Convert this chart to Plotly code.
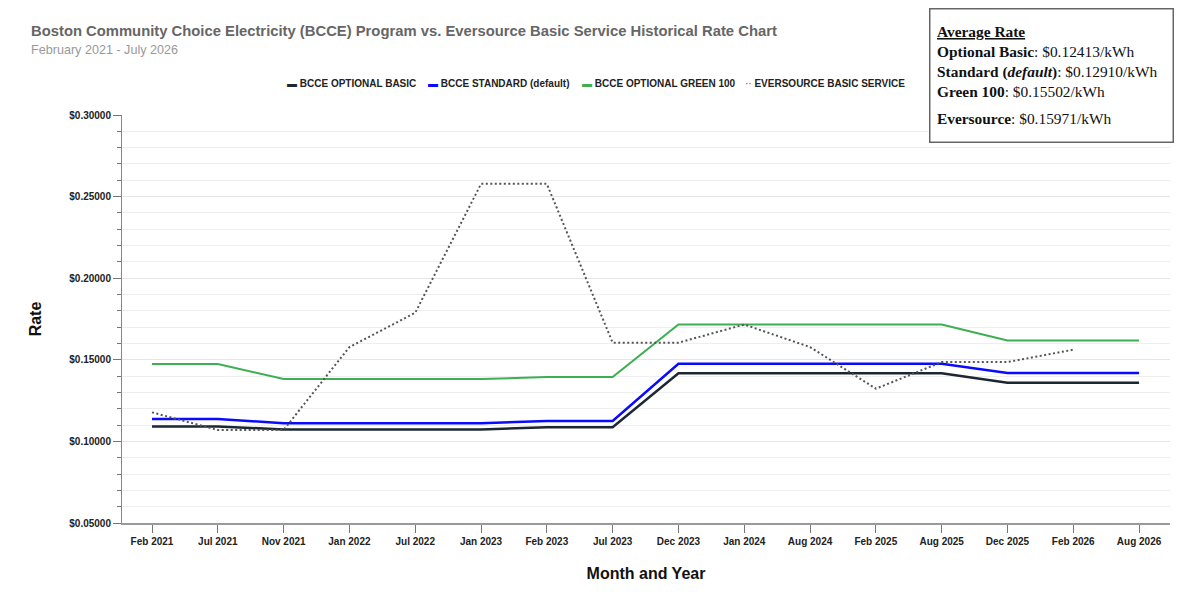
import plotly.graph_objects as go

months = ["Feb 2021", "Jul 2021", "Nov 2021", "Jan 2022", "Jul 2022", "Jan 2023",
          "Feb 2023", "Jul 2023", "Dec 2023", "Jan 2024", "Aug 2024", "Feb 2025",
          "Aug 2025", "Dec 2025", "Feb 2026", "Aug 2026"]

optional_basic = [0.1092, 0.1092, 0.1073, 0.1073, 0.1073, 0.1073, 0.1087, 0.1087,
                  0.1417, 0.1417, 0.1417, 0.1417, 0.1417, 0.1360, 0.1360, 0.1360]
standard = [0.1138, 0.1138, 0.1111, 0.1111, 0.1111, 0.1111, 0.1125, 0.1125,
            0.1476, 0.1476, 0.1476, 0.1476, 0.1476, 0.1419, 0.1419, 0.1419]
green_100 = [0.1474, 0.1474, 0.1382, 0.1382, 0.1382, 0.1382, 0.1394, 0.1394,
             0.1716, 0.1716, 0.1716, 0.1716, 0.1716, 0.1619, 0.1619, 0.1619]
eversource = [0.1178, 0.1070, 0.1070, 0.1578, 0.1788, 0.2578, 0.2578, 0.1605,
              0.1605, 0.1716, 0.1578, 0.1323, 0.1486, 0.1486, 0.1562, None]

series_names = ["BCCE OPTIONAL BASIC", "BCCE STANDARD (default)",
                "BCCE OPTIONAL GREEN 100", "EVERSOURCE BASIC SERVICE"]
series_colors = ["#1c2733", "#0a0aff", "#3daf52", "#555555"]

avg_labels = ["Optional Basic", "Standard (<i>default</i>)", "Green 100", "Eversource"]
avg_values = [0.12413, 0.12910, 0.15502, 0.15971]

# layout geometry (pixels)
W, H = 1200, 596
ML, MR, MT, MB = 122, 30, 115, 73
PW, PH = W - ML - MR, H - MT - MB


def px_x(p):
    return (p - ML) / PW


def px_y(p):
    return (H - MB - p) / PH


fig = go.Figure()
styles = [
    dict(color=series_colors[0], width=2.5, dash="solid"),
    dict(color=series_colors[1], width=2.5, dash="solid"),
    dict(color=series_colors[2], width=2, dash="solid"),
    dict(color=series_colors[3], width=2, dash="2px,2.5px"),
]
for name, vals, st in zip(series_names, [optional_basic, standard, green_100, eversource], styles):
    fig.add_trace(go.Scatter(x=months, y=vals, mode="lines", name=name, line=st,
                             connectgaps=False, showlegend=False))

ARIAL = "Arial, Liberation Sans, sans-serif"
SERIF = "Liberation Serif, serif"
axis_font = dict(family=ARIAL, size=10, color="#222222", weight="bold")

fig.update_layout(
    width=W, height=H,
    margin=dict(l=ML, r=MR, t=MT, b=MB),
    paper_bgcolor="white", plot_bgcolor="white",
    font=dict(family=ARIAL),
    showlegend=False,
    xaxis=dict(type="category", range=[-0.456, 15.47], showgrid=False,
               showline=True, linecolor="#999999", linewidth=2,
               ticks="outside", ticklen=8, tickcolor="#777777",
               tickfont=axis_font,
               title=dict(text="Month and Year",
                          font=dict(family=ARIAL, size=16, color="#111111", weight="bold"),
                          standoff=22)),
    yaxis=dict(range=[0.05, 0.30], dtick=0.05, tick0=0.05, tickprefix="$", tickformat=".5f",
               showgrid=True, gridcolor="#e6e6e6", gridwidth=1,
               showline=True, linecolor="#888888", linewidth=1,
               ticks="outside", ticklen=8, tickcolor="#777777",
               tickfont=axis_font,
               zeroline=False,
               minor=dict(dtick=0.01, tick0=0.05, showgrid=True, gridcolor="#eeeeee",
                          ticks="outside", ticklen=4, tickcolor="#777777"),
               title=dict(text="Rate",
                          font=dict(family=ARIAL, size=16, color="#111111", weight="bold"),
                          standoff=23)),
)

# Title and subtitle
fig.add_annotation(xref="paper", yref="paper", x=px_x(29), y=px_y(31), xanchor="left", yanchor="middle",
                   text="<b>Boston Community Choice Electricity (BCCE) Program vs. Eversource Basic Service Historical Rate Chart</b>",
                   showarrow=False, font=dict(family=ARIAL, size=14.8, color="#666666"))
fig.add_annotation(xref="paper", yref="paper", x=px_x(29), y=px_y(50), xanchor="left", yanchor="middle",
                   text="February 2021 - July 2026", showarrow=False,
                   font=dict(family=ARIAL, size=12.6, color="#999999"))

# Legend (one text entry per series)
legend_x = [285, 426, 580, 743]
symbols = ["▬", "▬", "▬", "··"]
for name, col, sym, lx in zip(series_names, series_colors, symbols, legend_x):
    fig.add_annotation(xref="paper", yref="paper", x=px_x(lx), y=px_y(83),
                       xanchor="left", yanchor="middle", showarrow=False,
                       text=f"<span style='color:{col}'>{sym}</span> <b>{name}</b>",
                       font=dict(family=ARIAL, size=10, color="#222222"))

# Average rate box
fig.add_annotation(xref="paper", yref="paper", x=px_x(929), y=px_y(8), xanchor="left", yanchor="top",
                   text=" ", showarrow=False, width=232, height=122,
                   bgcolor="white", bordercolor="#666666", borderwidth=1.5, borderpad=5)
top_lines = ["<b><u>Average Rate</u></b>"] + [
    f"<b>{lab}</b>: ${val:.5f}/kWh" for lab, val in zip(avg_labels[:3], avg_values[:3])]
fig.add_annotation(xref="paper", yref="paper", x=px_x(935), y=px_y(61), xanchor="left", yanchor="middle",
                   text="<br>".join(top_lines), showarrow=False, align="left",
                   font=dict(family=SERIF, size=15.4, color="#111111"))
fig.add_annotation(xref="paper", yref="paper", x=px_x(935), y=px_y(119), xanchor="left", yanchor="middle",
                   text=f"<b>{avg_labels[3]}</b>: ${avg_values[3]:.5f}/kWh", showarrow=False, align="left",
                   font=dict(family=SERIF, size=15.4, color="#111111"))

fig.write_html("out.html", config={"displayModeBar": False},
               post_script="document.body.style.margin='0';")
